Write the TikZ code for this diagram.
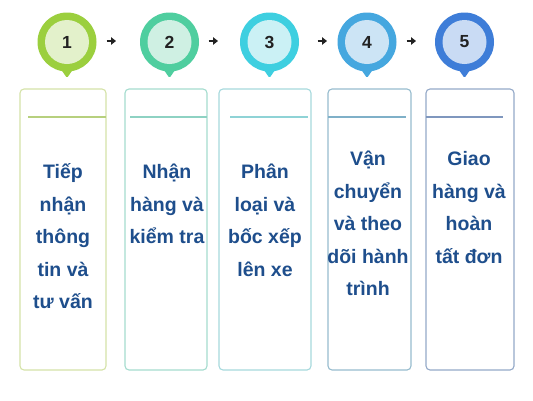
\documentclass[tikz,border=0pt]{standalone}
\usepackage{fontspec}
\setmainfont{Liberation Sans}
\usetikzlibrary{arrows.meta,calc}
\definecolor{txtblue}{HTML}{1E4E8C}
\definecolor{numdark}{HTML}{222222}
\definecolor{po1}{HTML}{9BCF3E}\definecolor{pi1}{HTML}{E3F1CB}
\definecolor{po2}{HTML}{4FCE9F}\definecolor{pi2}{HTML}{CFF0E3}
\definecolor{po3}{HTML}{3ECFE0}\definecolor{pi3}{HTML}{CBF1F5}
\definecolor{po4}{HTML}{45A7DF}\definecolor{pi4}{HTML}{CCE4F5}
\definecolor{po5}{HTML}{3E7DD8}\definecolor{pi5}{HTML}{C9DBF4}
\definecolor{bb1}{HTML}{D5E3A8}\definecolor{bl1}{HTML}{B7D07E}
\definecolor{bb2}{HTML}{A5DCCF}\definecolor{bl2}{HTML}{8ED2C3}
\definecolor{bb3}{HTML}{A6D9DD}\definecolor{bl3}{HTML}{8FD3D6}
\definecolor{bb4}{HTML}{97BCCE}\definecolor{bl4}{HTML}{7FB0C8}
\definecolor{bb5}{HTML}{94A9C8}\definecolor{bl5}{HTML}{7F97BE}
\tikzset{
  pinouter/.style={circle,minimum size=59pt,inner sep=0pt},
  pininner/.style={circle,minimum size=44pt,inner sep=0pt,font=\bfseries\fontsize{17.5}{19}\selectfont,text=numdark},
  stepcard/.style={rounded corners=4pt,line width=1.1pt},
  sepline/.style={line width=1.2pt},
  cardtext/.style={anchor=north,inner sep=0pt,align=center,text=txtblue,font=\bfseries\fontsize{19.5}{32.5}\selectfont},
  flowarrow/.style={line width=1.9pt,numdark,-{Triangle[length=5pt,width=7.5pt]}}
}
\begin{document}
\begin{tikzpicture}[x=1pt,y=-1pt]
\useasboundingbox (0,0) rectangle (533,400);
\fill[white] (0,0) rectangle (533,400);
% pins
\foreach \i/\cx in {1/67,2/169.5,3/269.5,4/367,5/464.5}{
  \fill[po\i,rounded corners=1.5pt] (\cx-9,65) -- (\cx,78) -- (\cx+9,65) -- cycle;
  \node[pinouter,fill=po\i] (p\i) at (\cx,42) {};
  \node[pininner,fill=pi\i] (n\i) at (\cx,42) {\i};
}
% arrows
\coordinate (a1) at (106.5,41); \coordinate (a2) at (208.5,41);
\coordinate (a3) at (317.5,41); \coordinate (a4) at (406.5,41);
\foreach \k in {1,2,3,4}{ \draw[flowarrow] (a\k) -- ++(9.5,0); }
% cards
\draw[stepcard,bb1] (20,89) rectangle (106,370);
\draw[stepcard,bb2] (125,89) rectangle (207,370);
\draw[stepcard,bb3] (219,89) rectangle (311,370);
\draw[stepcard,bb4] (328,89) rectangle (411,370);
\draw[stepcard,bb5] (426,89) rectangle (514,370);
\draw[sepline,bl1] (28,117) -- (106,117);
\draw[sepline,bl2] (130,117) -- (207,117);
\draw[sepline,bl3] (230,117) -- (308,117);
\draw[sepline,bl4] (328,117) -- (406,117);
\draw[sepline,bl5] (426,117) -- (503,117);
% texts
\node[cardtext] (t1) at (63,156) {\strut Tiếp\\nhận\\thông\\tin và\\tư vấn};
\node[cardtext] (t2) at (167,156) {\strut Nhận\\hàng và\\kiểm tra};
\node[cardtext] (t3) at (265,156) {\strut Phân\\loại và\\bốc xếp\\lên xe};
\node[cardtext] (t4) at (368,143) {\strut Vận\\chuyển\\và theo\\dõi hành\\trình};
\node[cardtext] (t5) at (469,143) {\strut Giao\\hàng và\\hoàn\\tất đơn};
\end{tikzpicture}
\end{document}
